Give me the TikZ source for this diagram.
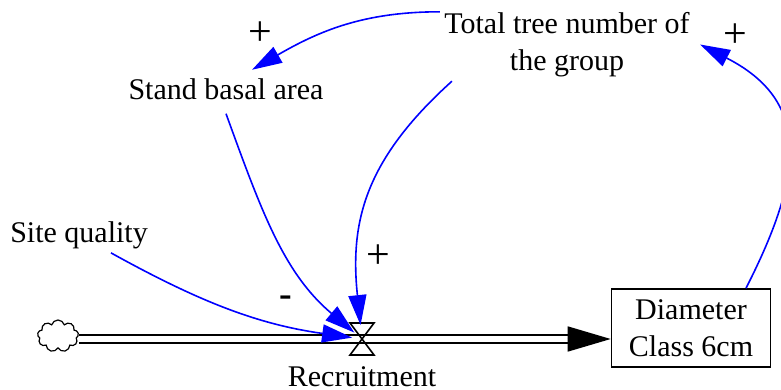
\documentclass[tikz,border=0pt]{standalone}
\usepackage{fontspec}
\setmainfont{LiberationSerif}[Extension=.ttf,UprightFont=*-Regular,BoldFont=*-Bold]
\usetikzlibrary{arrows.meta,calc,shapes.symbols}

\begin{document}
\begin{tikzpicture}[x=.5pt,y=.5pt,font=\fontsize{15}{18.5}\selectfont,
  txt/.style={inner sep=2pt},
  stock/.style={draw,line width=.8pt,minimum width=79.5pt,minimum height=39pt,align=center,inner sep=2pt},
  link/.style={blue,line width=.8pt,-{Triangle[length=15pt,width=9pt]}},
  pipe/.style={double,double distance=3.2pt,line width=.8pt},
  sign/.style={inner sep=0pt,font=\fontsize{21}{21}\selectfont}]
\useasboundingbox (0,0) rectangle (781,-390);
% variables
\node[txt,align=center] (total) at (567,-44.5) {Total tree number of\\the group};
\node[txt,anchor=base] (basal) at (226,-99) {Stand basal area};
\node[txt,anchor=base] (site) at (79,-242) {Site quality};
\node[stock] (box) at (691,-328) {Diameter\\Class 6cm};
\node[draw,cloud,cloud puffs=9,cloud ignores aspect,inner sep=0pt,minimum width=20.5pt,minimum height=16pt,line width=.6pt] (source) at (58,-336) {};
\coordinate (valve) at (362,-339);
\node[txt,anchor=base] (recruit) at (362,-386) {Recruitment};
% flow
\coordinate (tail) at ($(valve -| box.west)+(-43,0)$);
\draw[pipe] (source.east |- valve) -- (tail);
\draw[line width=.8pt,-{Triangle[length=21.5pt,width=12.5pt]}] (tail) -- (valve -| box.west);
\draw[line width=.8pt] ($(valve)+(-12,16)$) -- ($(valve)+(12,16)$) -- ($(valve)+(-12,-16)$) -- ($(valve)+(12,-16)$) -- cycle;
% links
\draw[link] ([yshift=-2pt]total.north west) to[out=180,in=30] ([xshift=13pt,yshift=2pt]basal.north);
\draw[link,shorten >=7pt] ([xshift=6pt]total.south west) to[out=222,in=96,looseness=1.1] (valve);
\draw[link,shorten >=5pt] ([yshift=-5pt]basal.south) to[out=-70,in=140] (valve);
\draw[link,shorten >=5pt] ([xshift=16pt]site.south) to[out=-29,in=172] (valve);
\draw[link] ([xshift=27.5pt]box.north) to[out=63,in=-27,looseness=1.3] ([xshift=3pt]total.east);
% polarities
\node[sign] (p1) at (260,-34) {+};
\node[sign] (p2) at (735,-36) {+};
\node[sign] (p3) at (378,-257) {+};
\node[sign,font=\fontsize{19}{19}\selectfont\bfseries] (m1) at (286,-301) {-};
\end{tikzpicture}
\end{document}
